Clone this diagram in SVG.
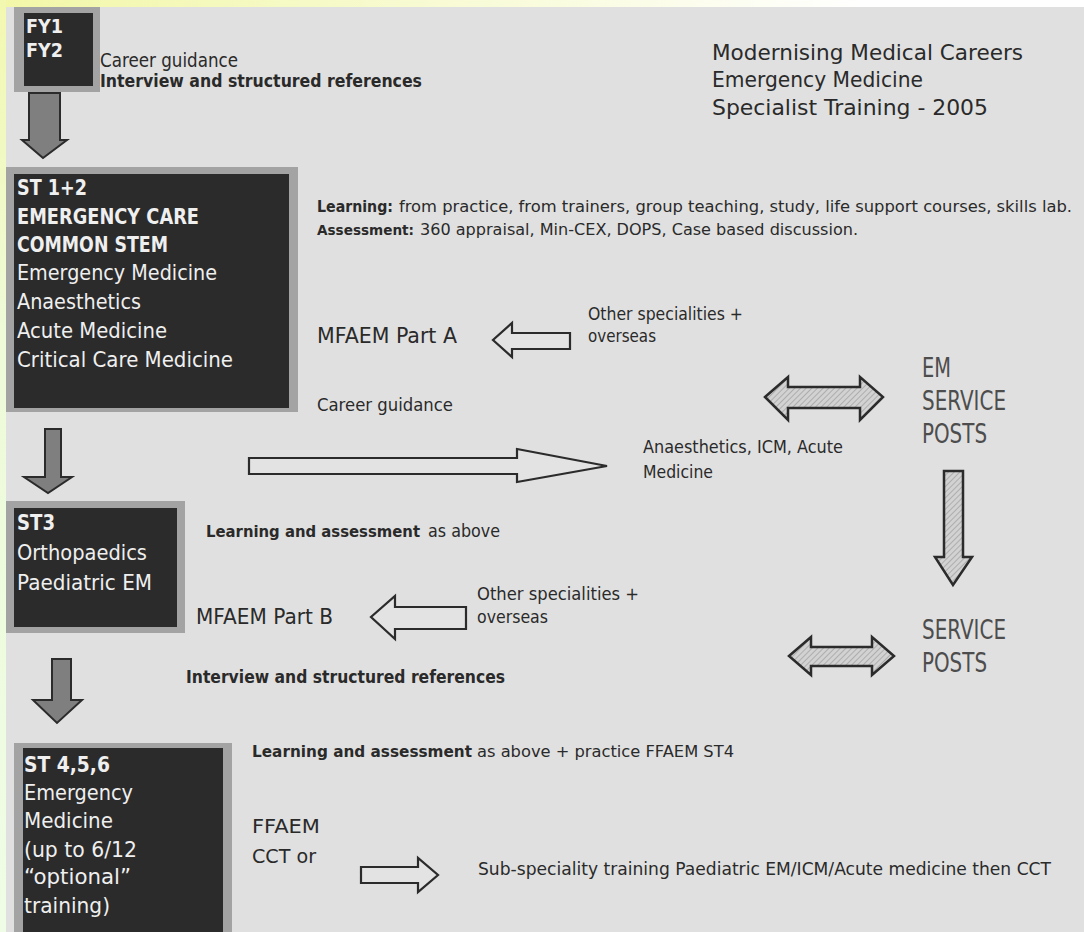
<svg xmlns="http://www.w3.org/2000/svg" width="1084" height="932" viewBox="0 0 1084 932">
<defs>
<linearGradient id="topg" x1="0" y1="0" x2="1" y2="0">
<stop offset="0" stop-color="#f2f7a8"/>
<stop offset="0.3" stop-color="#f6fac8"/>
<stop offset="0.8" stop-color="#ffffff"/>
<stop offset="1" stop-color="#ffffff"/>
</linearGradient>
<linearGradient id="leftg" x1="0" y1="0" x2="0" y2="1">
<stop offset="0" stop-color="#f3f8b0"/>
<stop offset="0.35" stop-color="#eefad8"/>
<stop offset="1" stop-color="#effde6"/>
</linearGradient>
<pattern id="hatch" width="4" height="4" patternUnits="userSpaceOnUse" patternTransform="rotate(45)">
<rect width="4" height="4" fill="#d2d2d2"/>
<line x1="0" y1="0" x2="0" y2="4" stroke="#959595" stroke-width="1.2"/>
</pattern>
<style>
.t{font-family:"DejaVu Sans",Verdana,sans-serif;fill:#2a2a2a}
.w{fill:#efefef}
.b{font-weight:bold}
.lt{fill:#4d4d4d}
.outer{fill:#a3a3a3}
.inner{fill:#2b2b2b}
.solid{fill:#7f7f7f;stroke:#2b2b2b;stroke-width:2;stroke-linejoin:miter}
.hollow{fill:#e3e3e3;stroke:#2b2b2b;stroke-width:2.2;stroke-linejoin:miter}
.hatched{fill:url(#hatch);stroke:#2b2b2b;stroke-width:2.5;stroke-linejoin:miter}
</style>
</defs>

<rect x="0" y="0" width="1084" height="932" fill="#e0e0e0"/>
<rect x="0" y="0" width="1084" height="7" fill="url(#topg)"/>
<rect x="0" y="0" width="6" height="932" fill="url(#leftg)"/>

<g id="title">
<text class="t" x="712" y="60" font-size="22" textLength="311" lengthAdjust="spacingAndGlyphs">Modernising Medical Careers</text>
<text class="t" x="712" y="87" font-size="22" textLength="211" lengthAdjust="spacingAndGlyphs">Emergency Medicine</text>
<text class="t" x="712" y="115" font-size="22" textLength="276" lengthAdjust="spacingAndGlyphs">Specialist Training - 2005</text>
</g>

<g id="fy">
<rect class="outer" x="14" y="7" width="86" height="85"/>
<rect class="inner" x="24" y="13" width="69" height="73"/>
<text class="t w b" x="26" y="33" font-size="20" textLength="37" lengthAdjust="spacingAndGlyphs">FY1</text>
<text class="t w b" x="26" y="57" font-size="20" textLength="37" lengthAdjust="spacingAndGlyphs">FY2</text>
</g>

<g id="fy-notes">
<text class="t" x="100" y="67" font-size="19" textLength="138" lengthAdjust="spacingAndGlyphs">Career guidance</text>
<text class="t b" x="100" y="87" font-size="18" textLength="322" lengthAdjust="spacingAndGlyphs">Interview and structured references</text>
</g>

<g id="st12">
<rect class="outer" x="6" y="167" width="292" height="245"/>
<rect class="inner" x="14" y="174" width="275" height="234"/>
<text class="t w b" x="17" y="195" font-size="22" textLength="70" lengthAdjust="spacingAndGlyphs">ST 1+2</text>
<text class="t w b" x="17" y="224" font-size="22" textLength="182" lengthAdjust="spacingAndGlyphs">EMERGENCY CARE</text>
<text class="t w b" x="17" y="252" font-size="22" textLength="151" lengthAdjust="spacingAndGlyphs">COMMON STEM</text>
<text class="t w" x="17" y="280" font-size="22" textLength="200" lengthAdjust="spacingAndGlyphs">Emergency Medicine</text>
<text class="t w" x="17" y="309" font-size="22" textLength="124" lengthAdjust="spacingAndGlyphs">Anaesthetics</text>
<text class="t w" x="17" y="338" font-size="22" textLength="150" lengthAdjust="spacingAndGlyphs">Acute Medicine</text>
<text class="t w" x="17" y="367" font-size="22" textLength="216" lengthAdjust="spacingAndGlyphs">Critical Care Medicine</text>
</g>

<g id="st12-notes">
<text class="t b" x="317" y="212" font-size="15" textLength="76" lengthAdjust="spacingAndGlyphs">Learning:</text>
<text class="t" x="399" y="212" font-size="16" textLength="673" lengthAdjust="spacingAndGlyphs">from practice, from trainers, group teaching, study, life support courses, skills lab.</text>
<text class="t b" x="317" y="235" font-size="14" textLength="97" lengthAdjust="spacingAndGlyphs">Assessment:</text>
<text class="t" x="420" y="235" font-size="16" textLength="438" lengthAdjust="spacingAndGlyphs">360 appraisal, Min-CEX, DOPS, Case based discussion.</text>
<text class="t" x="317" y="343" font-size="21" textLength="140" lengthAdjust="spacingAndGlyphs">MFAEM Part A</text>
<text class="t" x="588" y="320" font-size="17" textLength="155" lengthAdjust="spacingAndGlyphs">Other specialities +</text>
<text class="t" x="588" y="342" font-size="17" textLength="68" lengthAdjust="spacingAndGlyphs">overseas</text>
<text class="t" x="317" y="411" font-size="17" textLength="136" lengthAdjust="spacingAndGlyphs">Career guidance</text>
<text class="t" x="643" y="453" font-size="17" textLength="200" lengthAdjust="spacingAndGlyphs">Anaesthetics, ICM, Acute</text>
<text class="t" x="643" y="478" font-size="17" textLength="70" lengthAdjust="spacingAndGlyphs">Medicine</text>
</g>

<g id="em-service-posts">
<text class="t lt" x="922" y="377" font-size="26" textLength="29" lengthAdjust="spacingAndGlyphs">EM</text>
<text class="t lt" x="922" y="410" font-size="26" textLength="84" lengthAdjust="spacingAndGlyphs">SERVICE</text>
<text class="t lt" x="922" y="443" font-size="26" textLength="65" lengthAdjust="spacingAndGlyphs">POSTS</text>
</g>

<g id="service-posts">
<text class="t lt" x="922" y="639" font-size="26" textLength="84" lengthAdjust="spacingAndGlyphs">SERVICE</text>
<text class="t lt" x="922" y="672" font-size="26" textLength="65" lengthAdjust="spacingAndGlyphs">POSTS</text>
</g>

<g id="st3">
<rect class="outer" x="6" y="501" width="179" height="132"/>
<rect class="inner" x="14" y="508" width="163" height="119"/>
<text class="t w b" x="17" y="530" font-size="22" textLength="38" lengthAdjust="spacingAndGlyphs">ST3</text>
<text class="t w" x="17" y="560" font-size="22" textLength="130" lengthAdjust="spacingAndGlyphs">Orthopaedics</text>
<text class="t w" x="17" y="590" font-size="22" textLength="135" lengthAdjust="spacingAndGlyphs">Paediatric EM</text>
</g>

<g id="st3-notes">
<text class="t b" x="206" y="537" font-size="15" textLength="214" lengthAdjust="spacingAndGlyphs">Learning and assessment</text>
<text class="t" x="428" y="537" font-size="17" textLength="72" lengthAdjust="spacingAndGlyphs">as above</text>
<text class="t" x="196" y="624" font-size="21" textLength="137" lengthAdjust="spacingAndGlyphs">MFAEM Part B</text>
<text class="t" x="477" y="600" font-size="17" textLength="162" lengthAdjust="spacingAndGlyphs">Other specialities +</text>
<text class="t" x="477" y="623" font-size="17" textLength="71" lengthAdjust="spacingAndGlyphs">overseas</text>
<text class="t b" x="186" y="683" font-size="17" textLength="319" lengthAdjust="spacingAndGlyphs">Interview and structured references</text>
</g>

<g id="st456">
<rect class="outer" x="14" y="743" width="218" height="195"/>
<rect class="inner" x="23" y="748" width="200" height="190"/>
<text class="t w b" x="24" y="772" font-size="22" textLength="86" lengthAdjust="spacingAndGlyphs">ST 4,5,6</text>
<text class="t w" x="24" y="800" font-size="22" textLength="109" lengthAdjust="spacingAndGlyphs">Emergency</text>
<text class="t w" x="24" y="828" font-size="22" textLength="89" lengthAdjust="spacingAndGlyphs">Medicine</text>
<text class="t w" x="24" y="857" font-size="22" textLength="113" lengthAdjust="spacingAndGlyphs">(up to 6/12</text>
<text class="t w" x="24" y="884" font-size="22" textLength="107" lengthAdjust="spacingAndGlyphs">“optional”</text>
<text class="t w" x="24" y="913" font-size="22" textLength="86" lengthAdjust="spacingAndGlyphs">training)</text>
</g>

<g id="st456-notes">
<text class="t b" x="252" y="757" font-size="15" textLength="220" lengthAdjust="spacingAndGlyphs">Learning and assessment</text>
<text class="t" x="477" y="757" font-size="16" textLength="257" lengthAdjust="spacingAndGlyphs">as above + practice FFAEM ST4</text>
<text class="t" x="252" y="833" font-size="20" textLength="68" lengthAdjust="spacingAndGlyphs">FFAEM</text>
<text class="t" x="252" y="863" font-size="20" textLength="64" lengthAdjust="spacingAndGlyphs">CCT or</text>
<text class="t" x="478" y="875" font-size="17" textLength="573" lengthAdjust="spacingAndGlyphs">Sub-speciality training Paediatric EM/ICM/Acute medicine then CCT</text>
</g>

<g id="connectors">
<polygon class="solid" points="29,93 60,93 60,140 67,140 43,158 22,140 29,140"/>
<polygon class="solid" points="45,429 61,429 61,477 72,477 48,493 24,477 45,477"/>
<polygon class="solid" points="52,659 71,659 71,700 82,700 57,723 33,700 52,700"/>
<polygon class="hollow" points="249,458 517,458 517,449 607,466 517,482 517,474 249,474"/>
<polygon class="hollow" points="570,333 512,333 512,323 493,340 512,357 512,349 570,349"/>
<polygon class="hollow" points="466,607 395,607 395,596 371,617 395,639 395,629 466,629"/>
<polygon class="hollow" points="361,867 418,867 418,858 438,875 418,892 418,883 361,883"/>
<polygon class="hatched" points="765,397 788,377 788,387 860,387 860,377 883,397 860,420 860,408 788,408 788,420"/>
<polygon class="hatched" points="789,656 811,637 811,647 872,647 872,637 894,656 872,675 872,666 811,666 811,675"/>
<polygon class="hatched" points="944,471 963,471 963,557 972,557 953,585 935,557 944,557"/>
</g>
</svg>
